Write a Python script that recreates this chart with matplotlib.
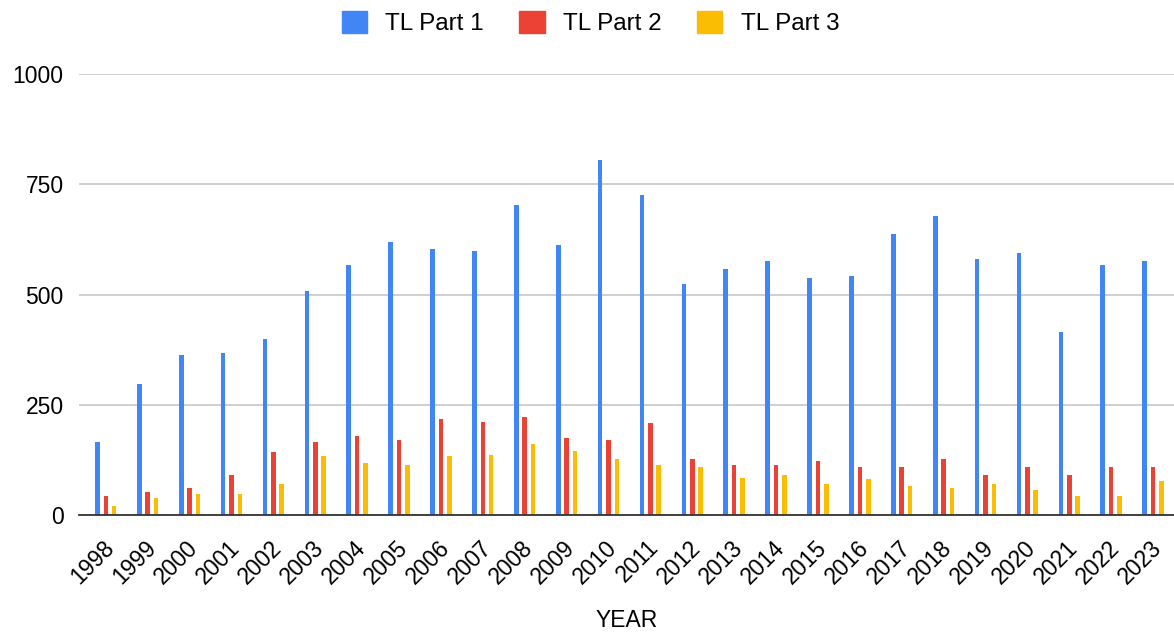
import matplotlib
matplotlib.use("Agg")
import matplotlib.pyplot as plt
import matplotlib.transforms as mtransforms
import numpy as np
from matplotlib.patches import Patch

years = [str(y) for y in range(1998, 2024)]
part1 = [165, 297, 363, 368, 400, 509, 566, 618, 603, 599, 703, 613, 806, 726,
         523, 557, 576, 538, 542, 637, 679, 580, 594, 415, 566, 576]
part2 = [42, 52, 62, 90, 142, 165, 180, 170, 217, 212, 222, 175, 170, 208,
         128, 113, 113, 123, 109, 109, 128, 90, 109, 90, 109, 109]
part3 = [20, 38, 48, 48, 71, 133, 118, 113, 133, 137, 161, 146, 128, 113,
         109, 85, 90, 71, 81, 66, 62, 71, 57, 43, 43, 76]
series_names = ["TL Part 1", "TL Part 2", "TL Part 3"]
colors = ["#4285F4", "#EA4335", "#FBBC04"]

plt.rcParams['font.family'] = ['Liberation Sans', 'DejaVu Sans']
FS = 16.5

fig = plt.figure(figsize=(11.74, 6.36), dpi=100)
ax = fig.add_axes([79/1174, (636-515)/636, (1174-79)/1174, (515-74)/636])

x = np.arange(len(years))
w = 0.11
step = 0.2
for i, (vals, c) in enumerate(zip([part1, part2, part3], colors)):
    ax.bar(x + (i - 1) * step, vals, width=w, color=c, zorder=3)

ax.set_xlim(-0.64, len(years) - 0.5)
ax.set_ylim(0, 1000)
ax.set_yticks([0, 250, 500, 750, 1000])
ax.yaxis.grid(True, color="#cccccc", linewidth=1.3, zorder=0)
ax.set_axisbelow(True)
for s in ["top", "right", "left"]:
    ax.spines[s].set_visible(False)
ax.spines["bottom"].set_color("#333333")
ax.spines["bottom"].set_linewidth(1.3)
ax.spines["bottom"].set_zorder(4)
ax.tick_params(axis="both", length=0, labelsize=FS, colors="#000000")
ax.tick_params(axis="y", pad=11)
ax.set_xticks(x)
ax.set_xticklabels(years, rotation=45, ha="right", va="center", rotation_mode="anchor")
ax.tick_params(axis="x", pad=21)
shift = mtransforms.ScaledTranslation(5/100, 0, fig.dpi_scale_trans)
for lab in ax.get_xticklabels():
    lab.set_transform(lab.get_transform() + shift)
ax.set_xlabel("YEAR", fontsize=FS, labelpad=15)

handles = [Patch(facecolor=c, edgecolor=c) for c in colors]
fig.legend(handles, series_names, loc="upper center", bbox_to_anchor=(0.503, 1.017),
           ncol=3, frameon=False, fontsize=17.5, handlelength=1.05, handleheight=1.0,
           handletextpad=0.75, columnspacing=1.45)

fig.savefig("out.png", dpi=100)
